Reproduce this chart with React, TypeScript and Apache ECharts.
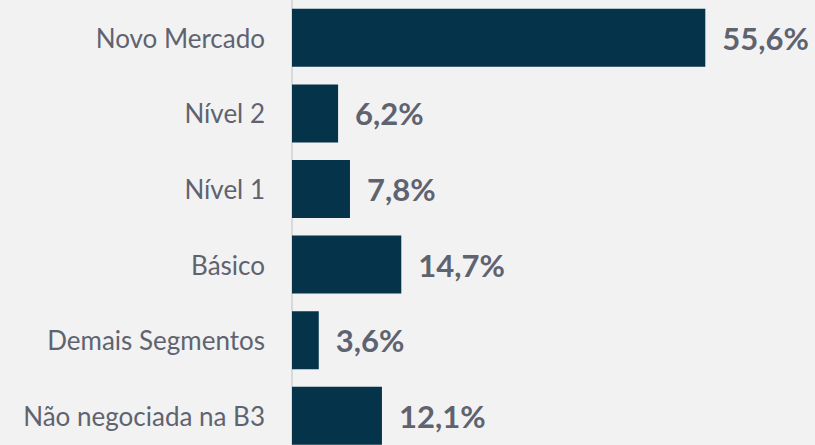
import React, { useEffect, useRef } from "react";
import * as echarts from "echarts";

const categories = [
  "Novo Mercado",
  "Nível 2",
  "Nível 1",
  "Básico",
  "Demais Segmentos",
  "Não negociada na B3",
];
const values = [55.6, 6.2, 7.8, 14.7, 3.6, 12.1];

export default function App() {
  const ref = useRef<HTMLDivElement>(null);
  useEffect(() => {
    if (!ref.current) return;
    const chart = echarts.init(ref.current, null, { renderer: "svg" });
    chart.setOption({
      animation: false,
      backgroundColor: "#f2f2f2",
      grid: {
        left: 292,
        top: 0,
        width: 446,
        height: 453.6,
        containLabel: false,
        outerBoundsMode: "none",
      },
      xAxis: {
        type: "value",
        min: 0,
        max: 60,
        show: false,
      },
      yAxis: {
        type: "category",
        data: categories,
        inverse: true,
        axisLine: { show: true, lineStyle: { color: "#d9d9d9", width: 2 } },
        axisTick: { show: false },
        axisLabel: {
          margin: 27,
          color: "#5f6370",
          fontFamily: "Lato",
          fontSize: 26,
        },
      },
      series: [
        {
          type: "bar",
          data: values,
          barWidth: 58,
          itemStyle: { color: "#04334a" },
          label: {
            show: true,
            position: "right",
            distance: 17,
            color: "#5f6370",
            fontFamily: "Lato",
            fontWeight: "bold",
            fontSize: 31,
            formatter: (p: any) => p.value.toFixed(1).replace(".", ",") + "%",
          },
        },
      ],
    });
    return () => chart.dispose();
  }, []);
  return (
    <div
      ref={ref}
      style={{ position: "fixed", left: 0, top: 0, width: 815, height: 445, background: "#f2f2f2" }}
    />
  );
}
